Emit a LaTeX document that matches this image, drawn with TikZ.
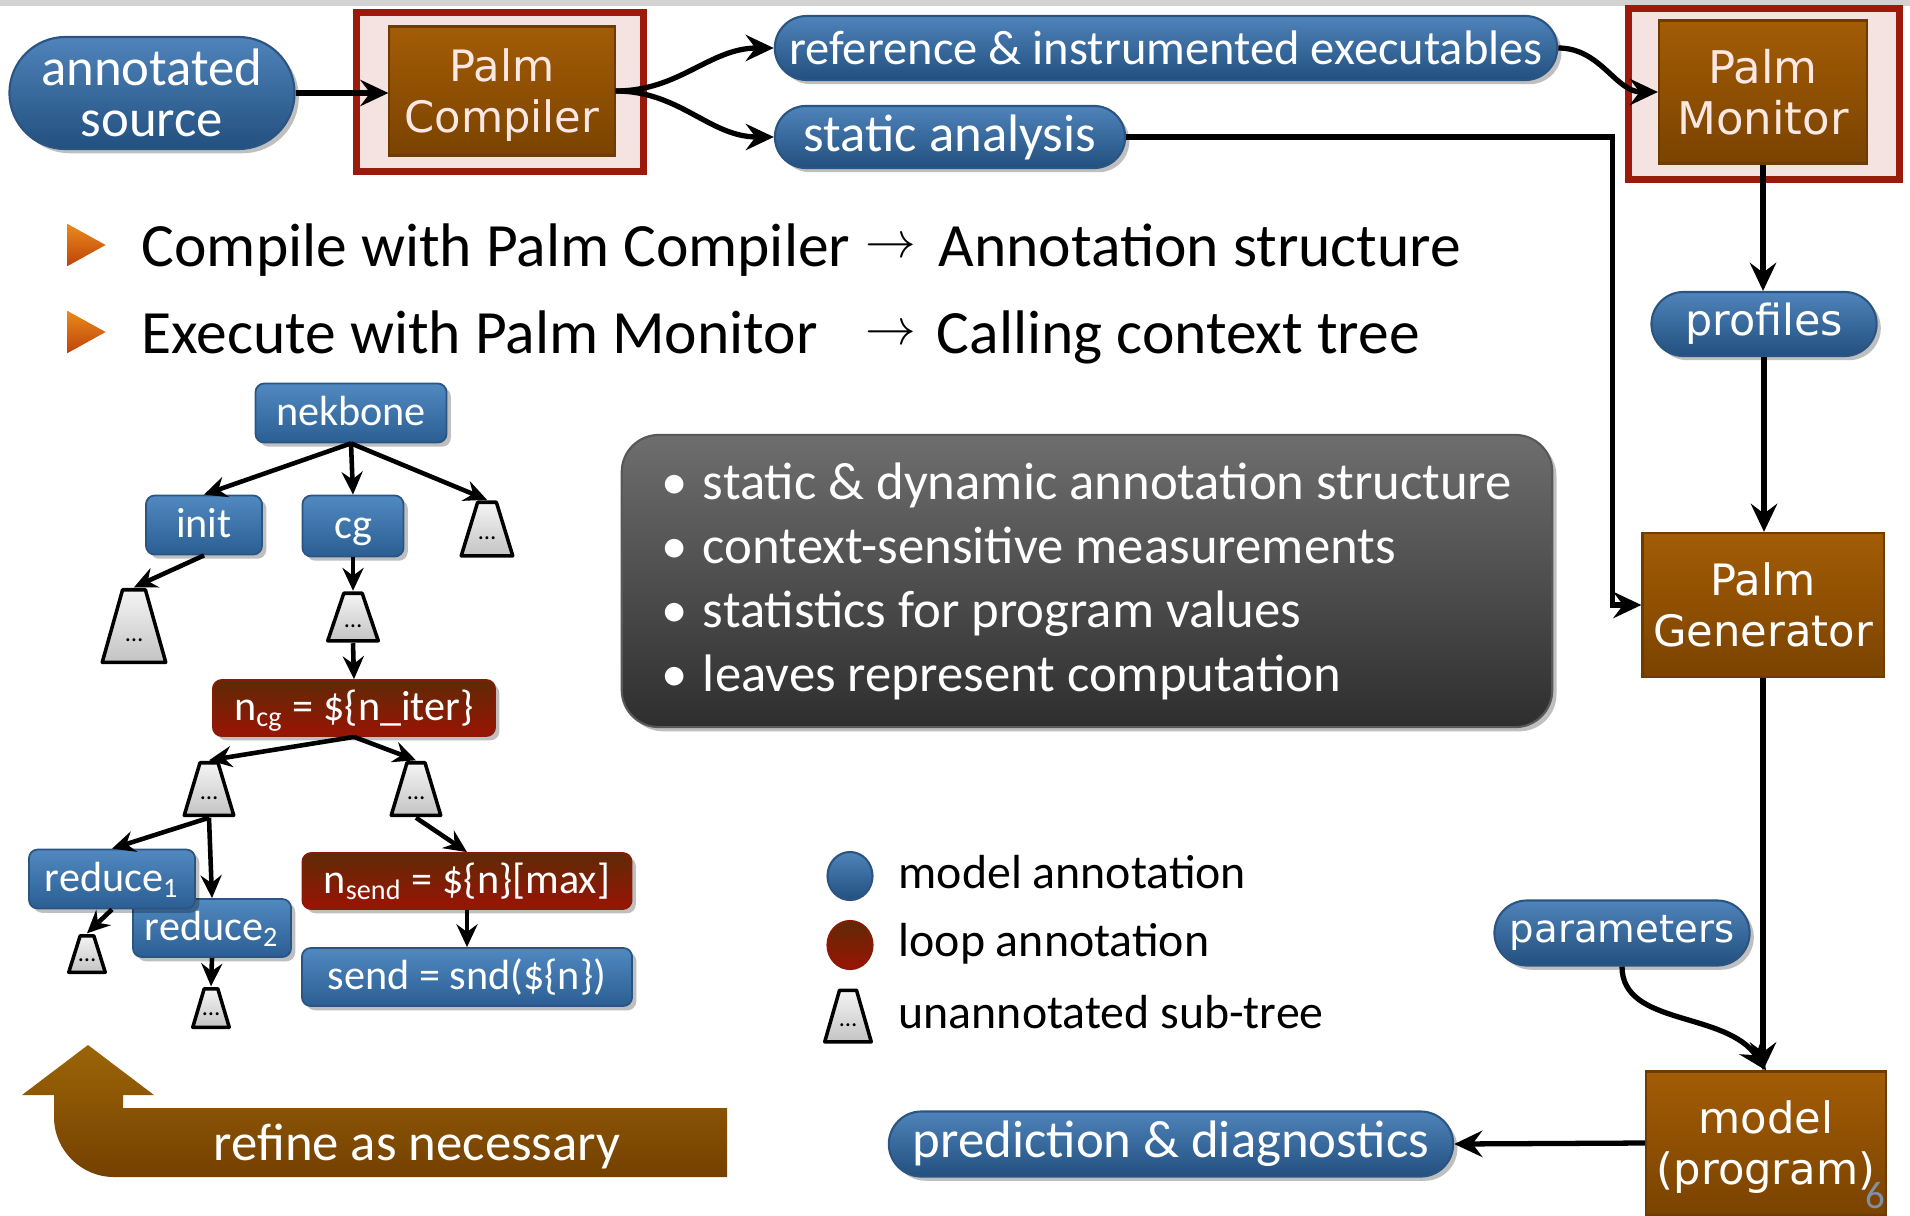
\documentclass[tikz,border=0pt]{standalone}
\usepackage{fontspec}
\setmainfont{Carlito}
\newfontfamily\toolfont{DejaVu Sans}
\usetikzlibrary{arrows.meta, calc, shadows, shapes.misc, shapes.geometric}

\definecolor{pilltop}{HTML}{4F83BA}
\definecolor{pillbot}{HTML}{22507F}
\definecolor{pillline}{HTML}{2A5583}
\definecolor{treetop}{HTML}{5089C0}
\definecolor{treebot}{HTML}{2B5E93}
\definecolor{tooltop}{HTML}{A35C05}
\definecolor{toolbot}{HTML}{7A4300}
\definecolor{toolline}{HTML}{6E3C00}
\definecolor{toolpink}{HTML}{FBE8E4}
\definecolor{framered}{HTML}{9C1A0C}
\definecolor{framefill}{HTML}{F5E3E2}
\definecolor{looptop}{HTML}{5F2A06}
\definecolor{loopbot}{HTML}{9A1404}
\definecolor{loopline}{HTML}{8A1A08}
\definecolor{boxtop}{HTML}{6E6E6E}
\definecolor{boxbot}{HTML}{2E2E2E}
\definecolor{subtop}{HTML}{F6F6F6}
\definecolor{subbot}{HTML}{C2C2C2}
\definecolor{bultop}{HTML}{EA8A1C}
\definecolor{bulbot}{HTML}{BF430A}
\definecolor{refinetop}{HTML}{9C6508}
\definecolor{refinebot}{HTML}{744000}
\definecolor{pagenum}{HTML}{8090A8}

\newcommand\subdots[1]{\raisebox{-#1}[0pt][0pt]{\ldots}}

\tikzset{
  shadowed/.style={
    drop shadow={shadow xshift=1.2pt, shadow yshift=-1.2pt, fill=black, opacity=0.25}
  },
  pill/.style={
    rounded rectangle, shadowed,
    top color=pilltop, bottom color=pillbot,
    draw=pillline, line width=0.6pt,
    inner sep=0pt, align=center, text=white,
    font=\fontsize{15}{14.5}\selectfont
  },
  toolframe/.style={
    rectangle, shadowed, draw=framered, fill=framefill, line width=2pt
  },
  tool/.style={
    rectangle, top color=tooltop, bottom color=toolbot,
    draw=toolline, line width=0.6pt,
    inner sep=0pt, align=center, text=white, text depth=0pt,
    font=\toolfont\fontsize{12.3}{14.5}\selectfont
  },
  treenode/.style={
    rectangle, rounded corners=2.5pt, shadowed,
    top color=treetop, bottom color=treebot,
    draw=pillline, line width=0.5pt,
    text height=2ex, text depth=0.5ex,
    inner sep=0pt, text=white, font=\fontsize{12}{12}\selectfont
  },
  loopnode/.style={
    treenode, top color=looptop, bottom color=loopbot, draw=loopline
  },
  subtree/.style 2 args={
    rectangle, minimum width=#1, minimum height=#2, inner sep=0pt,
    font=\fontsize{7}{7}\selectfont,
    path picture={
      \shade[top color=subtop, bottom color=subbot, draw=black, line width=1pt, line join=round]
        ($(path picture bounding box.south west)+(0.5pt,0.5pt)$)
        -- ($(path picture bounding box.north)!0.34!(path picture bounding box.north west)+(0,-0.5pt)$)
        -- ($(path picture bounding box.north)!0.34!(path picture bounding box.north east)+(0,-0.5pt)$)
        -- ($(path picture bounding box.south east)+(-0.5pt,0.5pt)$) -- cycle;
    }
  },
  infobox/.style={
    rectangle, rounded corners=0.37cm, shadowed,
    top color=boxtop, bottom color=boxbot, draw=boxbot!80!white, line width=0.6pt,
    text=white, align=left, inner xsep=0.3cm,
    minimum height=2.92cm, font=\fontsize{15}{18.2}\selectfont
  },
  bulletmark/.style={
    isosceles triangle, isosceles triangle stretches, shape border rotate=0,
    minimum width=0.42cm, minimum height=0.38cm, inner sep=0pt,
    top color=bultop, bottom color=bulbot
  },
  bigtext/.style={
    font=\fontsize{17.5}{17.5}\selectfont, inner sep=0pt, anchor=base west
  },
  totext/.style={
    font=\fontsize{14}{14}\selectfont, inner sep=0pt
  },
  legendtext/.style={
    font=\fontsize{13.6}{13.6}\selectfont, inner sep=0pt, anchor=west
  },
  legendball/.style={
    ellipse, minimum width=0.45cm, minimum height=0.48cm, inner sep=0pt,
    top color=pilltop, bottom color=pillbot, draw=pillline, line width=0.6pt
  },
  flow/.style={
    line width=1.5pt, -{Stealth[length=8pt, width=7.5pt, inset=2.8pt]}
  },
  treearr/.style={
    line width=1.3pt, -{Stealth[length=6.5pt, width=6pt, inset=2.2pt]}
  }
}

\begin{document}
\begin{tikzpicture}[x=0.01cm, y=-0.01cm]
  \useasboundingbox (0,0) rectangle (1910,1215);
  \fill[gray!35] (0,0) rectangle (1910,6);

  % tool chain
  \node[pill, minimum width=2.85cm, minimum height=1.12cm] (src) at (152,93) {annotated\\source};
  \node[toolframe, minimum width=2.86cm, minimum height=1.58cm] (compframe) at (500,92) {};
  \node[tool, text=toolpink, minimum width=2.25cm, minimum height=1.29cm] (comp) at (502,91) {Palm\\Compiler};
  \node[pill, font=\fontsize{13.8}{13.8}\selectfont, minimum width=7.82cm, minimum height=0.64cm] (ref) at (1166,48) {reference \& instrumented executables};
  \node[pill, minimum width=3.5cm, minimum height=0.62cm] (sa) at (950,137) {static analysis};
  \node[toolframe, minimum width=2.7cm, minimum height=1.7cm] (monframe) at (1764,94) {};
  \node[tool, text=toolpink, font=\toolfont\fontsize{12.8}{14.5}\selectfont, minimum width=2.08cm, minimum height=1.43cm] (mon) at (1763,92) {Palm\\Monitor};
  \node[pill, font=\toolfont\fontsize{12.2}{12.2}\selectfont, minimum width=2.25cm, minimum height=0.64cm] (prof) at (1764,324) {profiles};
  \node[tool, minimum width=2.41cm, minimum height=1.44cm] (gen) at (1763,605) {Palm\\Generator};
  \node[pill, font=\toolfont\fontsize{11}{11}\selectfont, minimum width=2.55cm, minimum height=0.65cm] (params) at (1622,933) {parameters};
  \node[tool, minimum width=2.4cm, minimum height=1.43cm] (model) at (1766,1143) {model\\(program)};
  \node[pill, minimum width=5.64cm, minimum height=0.65cm] (pred) at (1171,1144) {prediction \& diagnostics};
  \node[text=pagenum, font=\fontsize{11}{11}\selectfont, inner sep=0pt] (pagenum) at (1875,1196) {6};

  \draw[flow] (src.east) -- (src.east -| comp.west);
  \draw[flow] (comp.east) to[out=0, in=180] (ref.west);
  \draw[flow] (comp.east) to[out=0, in=180] (sa.west);
  \draw[flow] (ref.east) to[out=0, in=180] (mon.west);
  \draw[flow] (sa.east) -| ([xshift=-0.29cm]gen.west) -- (gen.west);
  \draw[flow] (mon.south) -- (mon.south |- prof.north);
  \draw[flow] (prof.south) -- (prof.south |- gen.north);
  \draw[flow] (gen.south) -- (gen.south |- model.north);
  \draw[flow] (params.south) .. controls +(0,60) and +(-40,-60) .. (model.north);
  \draw[flow] (model.west) -- (pred.east);

  % steps
  \node[bulletmark] (mark1) at (80,245) {};
  \node[bulletmark] (mark2) at (80,332) {};
  \node[bigtext] (step1) at (141,266) {Compile with Palm Compiler};
  \node[totext] (to1) at (891,248) {$\rightarrow$};
  \node[bigtext] (res1) at (938,266) {Annotation structure};
  \node[bigtext] (step2) at (141,353) {Execute with Palm Monitor};
  \node[totext] (to2) at (891,335) {$\rightarrow$};
  \node[bigtext] (res2) at (936,353) {Calling context tree};

  % calling context tree
  \node[treenode, minimum width=1.91cm, minimum height=0.59cm] (nek) at (351,413) {nekbone};
  \node[treenode, minimum width=1.16cm, minimum height=0.59cm] (init) at (204,525) {init};
  \node[treenode, minimum width=1.01cm, minimum height=0.61cm] (cg) at (353,526) {cg};
  \node[subtree={0.55cm}{0.57cm}] (st1) at (487,529) {\subdots{3pt}};
  \node[subtree={0.67cm}{0.76cm}] (st2) at (134,626) {\subdots{4.5pt}};
  \node[subtree={0.54cm}{0.51cm}] (st3) at (353,617) {\subdots{3pt}};
  \node[loopnode, minimum width=2.82cm, minimum height=0.56cm] (ncg) at (354,708) {n\textsubscript{cg} = \$\{n\_iter\}};
  \node[subtree={0.53cm}{0.56cm}] (st4) at (209,789) {\subdots{3pt}};
  \node[subtree={0.53cm}{0.56cm}] (st5) at (416,789) {\subdots{3pt}};
  \node[treenode, minimum width=1.58cm, minimum height=0.58cm] (red2) at (212,928) {reduce\textsubscript{2}};
  \node[treenode, minimum width=1.66cm, minimum height=0.59cm] (red1) at (112,879) {reduce\textsubscript{1}};
  \node[subtree={0.4cm}{0.4cm}] (st6) at (87,954) {\subdots{2pt}};
  \node[subtree={0.4cm}{0.42cm}] (st7) at (211,1008) {\subdots{2pt}};
  \node[loopnode, minimum width=3.29cm, minimum height=0.56cm] (nsend) at (467,881) {n\textsubscript{send} = \$\{n\}[max]};
  \node[treenode, minimum width=3.3cm, minimum height=0.58cm] (send) at (467,977) {send = snd(\$\{n\})};

  \draw[treearr] (nek.south) -- (init.north);
  \draw[treearr] (nek.south) -- (cg.north);
  \draw[treearr] (nek.south) -- (st1.north);
  \draw[treearr] (init.south) -- (st2.north);
  \draw[treearr] (cg.south) -- (st3.north);
  \draw[treearr] (st3.south) -- (ncg.north);
  \draw[treearr] (ncg.south) -- (st4.north);
  \draw[treearr] (ncg.south) -- (st5.north);
  \draw[treearr] (st4.south) -- (red1.north);
  \draw[treearr] (st4.south) -- (red2.north);
  \draw[treearr] (red1.south) -- (st6.north);
  \draw[treearr] (red2.south) -- (st7.north);
  \draw[treearr] (st5.south) -- (nsend.north);
  \draw[treearr] (nsend.south) -- (send.north);

  % properties
  \node[infobox, minimum width=9.3cm] (info) at (1087,581) {%
    \makebox[0.41cm][l]{\textbullet}static \& dynamic annotation structure\\
    \makebox[0.41cm][l]{\textbullet}context-sensitive measurements\\
    \makebox[0.41cm][l]{\textbullet}statistics for program values\\
    \makebox[0.41cm][l]{\textbullet}leaves represent computation};

  % legend
  \node[legendball] (legmodel) at (850,876) {};
  \node[legendtext] (legmodeltext) at (898,872) {model annotation};
  \node[legendball, top color=looptop, bottom color=loopbot, draw=loopline] (legloop) at (850,945) {};
  \node[legendtext] (leglooptext) at (898,944) {loop annotation};
  \node[subtree={0.5cm}{0.55cm}] (legsub) at (848,1016) {\subdots{3pt}};
  \node[legendtext] (legsubtext) at (898,1012) {unannotated sub-tree};

  % refine arrow
  \shade[top color=refinetop, bottom color=refinebot]
    (22,1095) -- (88,1045) -- (154,1095) -- (123,1095) -- (123,1108) -- (727,1108)
    -- (727,1177) -- (114,1177) .. controls (81,1177) and (54,1150) .. (54,1117)
    -- (54,1095) -- cycle;
  \node[text=white, font=\fontsize{15}{15}\selectfont, inner sep=0pt] (refine) at (417,1146) {refine as necessary};
\end{tikzpicture}
\end{document}
